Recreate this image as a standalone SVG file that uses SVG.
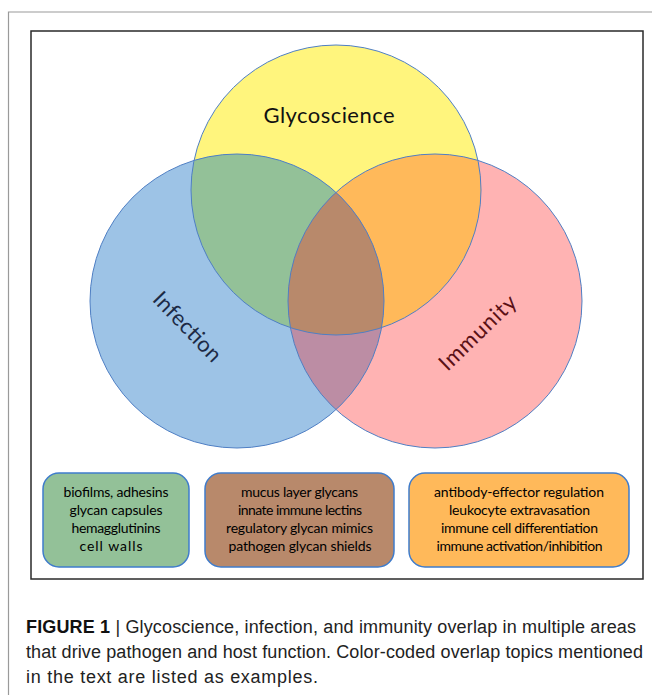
<svg xmlns="http://www.w3.org/2000/svg" width="652" height="695" viewBox="0 0 652 695">
<style>
.circ{stroke:#4F7FC4;stroke-width:1}
.box{stroke:#3F7CCB;stroke-width:1.5}
.bt{font-family:Lato,"Open Sans",sans-serif;font-size:14px;fill:#000;text-anchor:middle}
.big{font-family:Lato,"Open Sans",sans-serif;font-size:22px}
.cap{font-family:"Liberation Sans Narrow","Liberation Sans",Arial,sans-serif;font-size:18px;fill:#222}
</style>
<defs>
<clipPath id="cY"><circle cx="336" cy="190" r="145"/></clipPath>
<clipPath id="cB"><circle cx="237" cy="301" r="147"/></clipPath>
</defs>
<rect width="652" height="695" fill="#fff"/>
<path d="M652 12 H8.5 V695" fill="none" stroke="#9a9a9a" stroke-width="1.2"/>
<rect x="31" y="31" width="612" height="548" fill="#fff" stroke="#2a2a2a" stroke-width="1.5"/>
<g id="venn">
<circle cx="336" cy="190" r="145" fill="#FFF57D"/>
<circle cx="237" cy="301" r="147" fill="#9DC3E6"/>
<circle cx="435" cy="301" r="147" fill="#FFB3B3"/>
<circle cx="237" cy="301" r="147" fill="#93C198" clip-path="url(#cY)"/>
<circle cx="435" cy="301" r="147" fill="#FFB95A" clip-path="url(#cY)"/>
<circle cx="435" cy="301" r="147" fill="#BC8DA4" clip-path="url(#cB)"/>
<g clip-path="url(#cY)"><circle cx="435" cy="301" r="147" fill="#B8896B" clip-path="url(#cB)"/></g>
<circle class="circ" cx="336" cy="190" r="145" fill="none"/>
<circle class="circ" cx="237" cy="301" r="147" fill="none"/>
<circle class="circ" cx="435" cy="301" r="147" fill="none"/>
</g>
<g id="glycoscience"><text class="big" x="329" y="123" text-anchor="middle" fill="#111" textLength="131">Glycoscience</text></g>
<g id="infection"><text class="big" transform="translate(187,327) rotate(46)" x="0" y="7" text-anchor="middle" fill="#1C2A45" textLength="88">Infection</text></g>
<g id="immunity"><text class="big" transform="translate(478,333) rotate(-44)" x="0" y="7" text-anchor="middle" fill="#5A1015" textLength="98">Immunity</text></g>
<g id="box-green">
<rect class="box" x="43" y="473" width="146" height="94" rx="16" fill="#93C198"/>
<text class="bt" x="116" y="497" textLength="105">biofilms, adhesins</text>
<text class="bt" x="116" y="515" textLength="93">glycan capsules</text>
<text class="bt" x="116" y="533" textLength="89">hemagglutinins</text>
<text class="bt" x="111" y="551" textLength="63">cell walls</text>
</g>
<g id="box-brown">
<rect class="box" x="205" y="473" width="189" height="94" rx="16" fill="#B8896B"/>
<text class="bt" x="299.5" y="497" textLength="117">mucus layer glycans</text>
<text class="bt" x="300" y="515" textLength="124">innate immune lectins</text>
<text class="bt" x="299.5" y="533" textLength="147">regulatory glycan mimics</text>
<text class="bt" x="300" y="551" textLength="143">pathogen glycan shields</text>
</g>
<g id="box-orange">
<rect class="box" x="409" y="473" width="220" height="94" rx="16" fill="#FFB95A"/>
<text class="bt" x="519" y="497" textLength="170">antibody-effector regulation</text>
<text class="bt" x="519.5" y="515" textLength="141">leukocyte extravasation</text>
<text class="bt" x="519.5" y="533" textLength="157">immune cell differentiation</text>
<text class="bt" x="519.5" y="551" textLength="166">immune activation/inhibition</text>
</g>
<g id="caption">
<text class="cap" x="26" y="633" textLength="610"><tspan font-weight="bold" fill="#111">FIGURE 1</tspan>  |  Glycoscience, infection, and immunity overlap in multiple areas</text>
<text class="cap" x="26" y="658" textLength="617">that drive pathogen and host function. Color-coded overlap topics mentioned</text>
<text class="cap" x="26" y="683" textLength="292">in the text are listed as examples.</text>
</g>
</svg>
